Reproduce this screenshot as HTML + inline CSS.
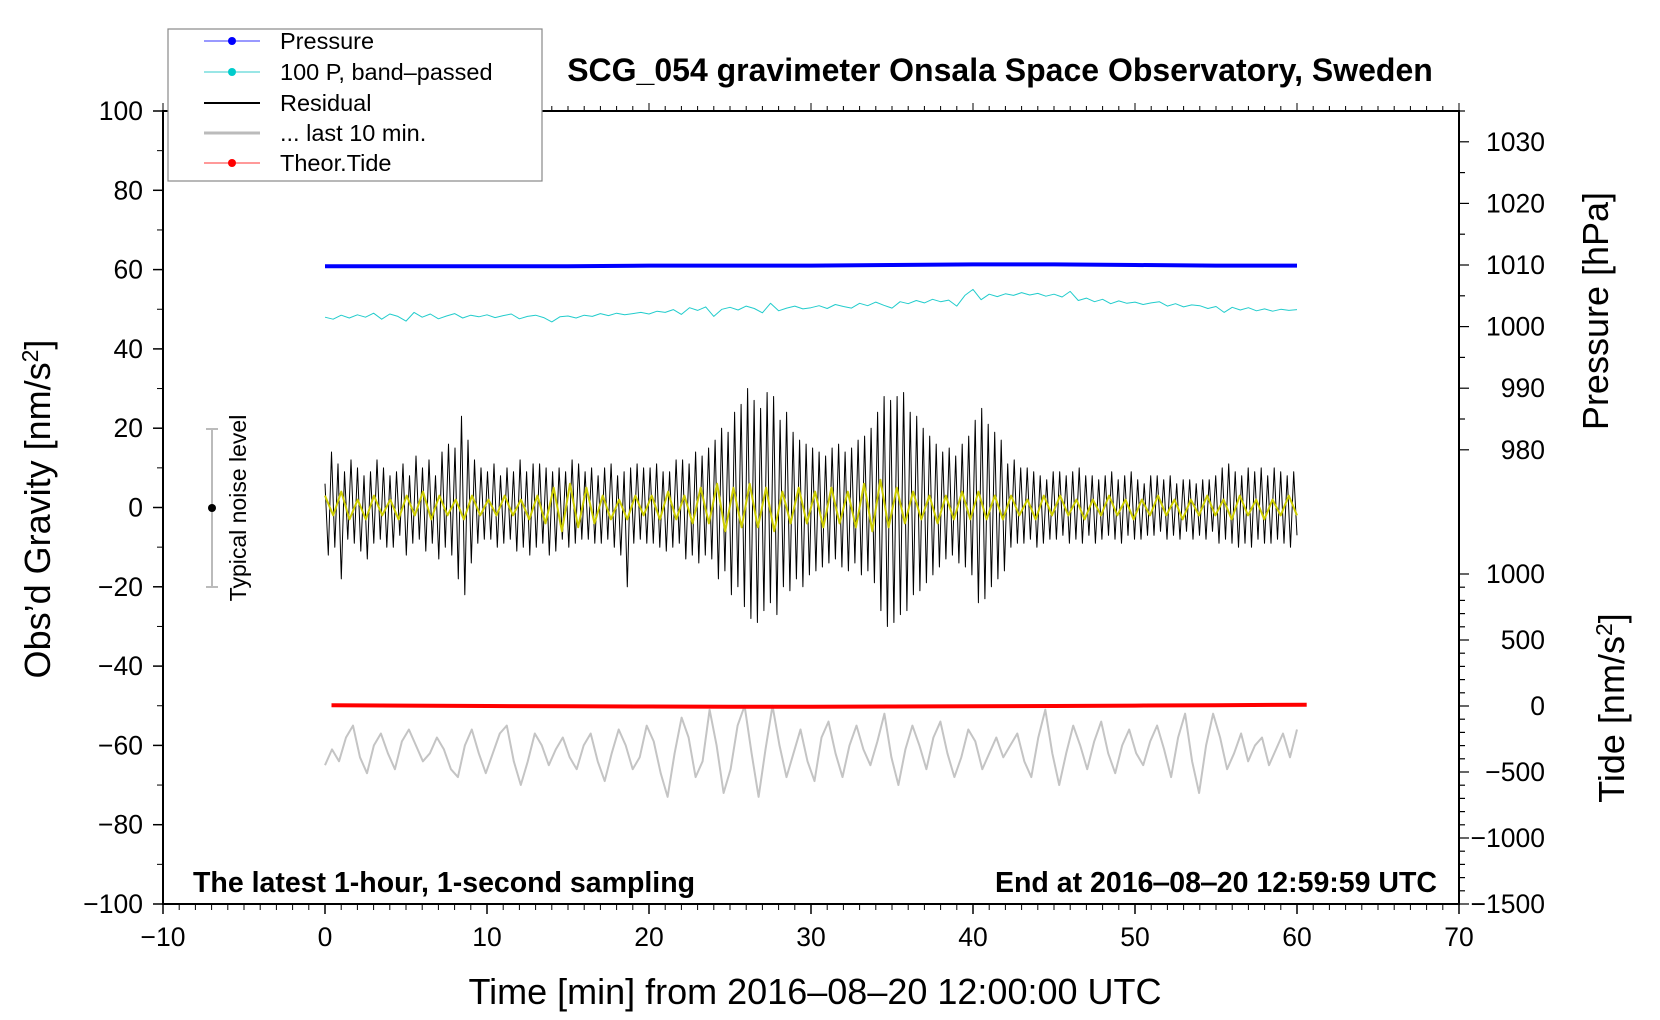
<!DOCTYPE html>
<html><head><meta charset="utf-8"><style>
html,body{margin:0;padding:0;background:#fff;}
svg{display:block;font-family:"Liberation Sans",Arial,sans-serif;}
</style></head><body>
<svg id="chart" width="1660" height="1020" viewBox="0 0 1660 1020">
<g id="marks"></g>
<g id="axes"></g>
<text x="1000" y="81" font-size="32" font-weight="bold" text-anchor="middle">SCG_054 gravimeter Onsala Space Observatory, Sweden</text>
<text x="193" y="892" font-size="28.5" font-weight="bold">The latest 1-hour, 1-second sampling</text>
<text x="1437" y="892" font-size="28.5" font-weight="bold" text-anchor="end">End at 2016‒08‒20 12:59:59 UTC</text>
<text x="815" y="1004" font-size="36" text-anchor="middle">Time [min] from 2016‒08‒20 12:00:00 UTC</text>
<text transform="translate(50,509) rotate(-90)" font-size="36" text-anchor="middle">Obs’d Gravity [nm/s<tspan font-size="23" dy="-12">2</tspan><tspan dy="12">]</tspan></text>
<text transform="translate(1608,311) rotate(-90)" font-size="36" text-anchor="middle">Pressure [hPa]</text>
<text transform="translate(1624,708) rotate(-90)" font-size="36" text-anchor="middle">Tide [nm/s<tspan font-size="23" dy="-12">2</tspan><tspan dy="12">]</tspan></text>
<g>
<line x1="212" y1="429" x2="212" y2="587" stroke="#bbb" stroke-width="2"/>
<line x1="206" y1="429" x2="218" y2="429" stroke="#bbb" stroke-width="2"/>
<line x1="206" y1="587" x2="218" y2="587" stroke="#bbb" stroke-width="2"/>
<circle cx="212" cy="508" r="4" fill="#000"/>
<text transform="translate(246,508) rotate(-90)" font-size="23" text-anchor="middle">Typical noise level</text>
</g>
<g>
<rect x="168" y="29" width="374" height="152" fill="#fff" stroke="#888" stroke-width="1.2"/>
<line x1="204" y1="41" x2="260" y2="41" stroke="#33f" stroke-width="1"/><circle cx="232" cy="41" r="4" fill="#00f"/>
<text x="280" y="49" font-size="23.5">Pressure</text>
<line x1="204" y1="72" x2="260" y2="72" stroke="#3cc" stroke-width="1"/><circle cx="232" cy="72" r="4" fill="#0cc"/>
<text x="280" y="80" font-size="23.5">100 P, band‒passed</text>
<line x1="204" y1="103" x2="260" y2="103" stroke="#000" stroke-width="2"/>
<text x="280" y="111" font-size="23.5">Residual</text>
<line x1="204" y1="133" x2="260" y2="133" stroke="#bbb" stroke-width="3"/>
<text x="280" y="141" font-size="23.5">... last 10 min.</text>
<line x1="204" y1="163" x2="260" y2="163" stroke="#f33" stroke-width="1"/><circle cx="232" cy="163" r="4" fill="#f00"/>
<text x="280" y="171" font-size="23.5">Theor.Tide</text>
</g>
</svg>
<script>
const pressureTimes=[0,5,10,15,20,25,30,35,40,45,50,55,60];
const pressureValues=[1009.8,1009.8,1009.8,1009.8,1009.9,1009.9,1009.9,1010.0,1010.1,1010.1,1010.0,1009.9,1009.9];
const tideTimes=[0.4,5,10,15,20,25,30,35,40,45,50,55,60.6];
const tideValues=[5,3,0,-2,-4,-5,-5,-4,-2,0,3,6,10];
const residualValues=[6,-12,14,-10,11,-18,9,-8,12,-9,10,-11,8,-13,9,-9,12,-8,10,-10,8,-10,9,-7,11,-12,8,-9,13,-8,10,-11,12,-9,8,-13,14,-10,16,-12,15,-18,23,-22,17,-14,12,-9,10,-8,9,-8,11,-10,8,-9,10,-8,9,-11,12,-10,9,-12,11,-10,11,-9,10,-12,9,-11,10,-8,9,-10,12,-9,11,-8,9,-8,10,-9,8,-9,10,-8,11,-10,8,-12,9,-20,10,-9,11,-8,10,-9,10,-9,11,-10,9,-11,9,-10,12,-9,12,-13,11,-12,14,-14,13,-12,15,-13,17,-18,20,-16,19,-22,24,-20,26,-25,30,-28,27,-29,25,-26,29,-24,28,-27,22,-20,24,-21,19,-18,17,-20,16,-17,15,-16,14,-15,13,-14,15,-13,16,-15,14,-16,15,-14,17,-17,18,-16,20,-19,24,-26,28,-30,27,-29,28,-27,29,-26,24,-22,23,-21,20,-19,18,-17,16,-15,14,-13,15,-12,13,-14,16,-15,18,-17,22,-24,25,-23,21,-20,19,-18,17,-16,11,-10,12,-9,10,-9,10,-8,9,-10,8,-9,7,-8,9,-8,9,-7,8,-9,9,-8,10,-9,8,-7,8,-9,7,-8,8,-7,9,-8,7,-9,8,-7,9,-8,7,-8,6,-7,8,-7,8,-6,7,-8,8,-7,6,-8,7,-6,7,-8,6,-7,7,-8,7,-6,8,-9,10,-8,11,-9,9,-10,8,-9,10,-10,9,-8,10,-9,8,-9,10,-8,9,-9,8,-10,9,-7];
const smoothValues=[3,-2,4,-3,2,-3,3,-2,2,-3,3,-2,4,-3,3,-2,2,-3,3,-2,2,-2,3,-2,2,-3,3,-4,5,-6,6,-5,5,-4,3,-3,2,-3,3,-2,3,-3,4,-3,3,-4,5,-4,6,-6,5,-5,6,-5,5,-6,4,-4,5,-4,4,-5,5,-4,4,-5,6,-6,7,-5,5,-4,4,-3,3,-4,3,-3,4,-3,4,-3,3,-3,3,-2,2,-3,3,-2,3,-2,2,-3,2,-2,3,-2,2,-3,2,-2,3,-2,2,-3,2,-2,3,-2,2,-3,3,-2,2,-3,2,-2,3,-2];
const bandPassedValues=[48,47.5,48.5,47.8,48.6,48,49,47.5,48.8,48.2,47,49.2,48,48.8,47.6,48.3,48.9,47.8,48.5,48.1,48.6,47.9,48.4,48.8,47.6,48.2,48.5,47.9,46.8,48.1,48.3,47.8,48.5,48.2,48.9,48.4,49,48.6,48.9,49.2,48.8,49.5,49.2,49.9,48.7,50.4,49.7,50.6,48.2,50,50.5,49.8,50.8,50.2,49.1,51.5,49.6,50.3,50.8,50.1,50.4,50.9,50.2,51.2,50.7,50.3,51.5,50.9,51.8,51,50.3,51.9,51.4,52.2,51.6,52.5,51.9,52.3,50.8,53.5,55,52.4,53.8,53.2,53.9,53.5,54.2,53.6,54,53.3,53.8,53.1,54.5,52.2,52.8,51.9,52.5,51.4,52.1,51.5,51.8,51.2,51.6,51.9,50.8,51.4,50.6,51.1,50.9,50.2,50.7,49.2,50.5,49.8,50.4,49.6,50.1,49.5,50,49.7,49.9];
const last10Values=[-65,-61,-64,-58,-55,-63,-67,-60,-57,-62,-66,-59,-56,-60,-64,-62,-58,-61,-66,-68,-60,-56,-62,-67,-62,-57,-55,-64,-70,-64,-57,-60,-65,-61,-58,-63,-66,-60,-57,-64,-69,-62,-56,-60,-66,-63,-55,-59,-67,-73,-62,-53,-58,-68,-64,-51,-60,-72,-66,-55,-50,-62,-73,-61,-50,-60,-68,-62,-56,-64,-69,-58,-54,-62,-68,-60,-55,-61,-65,-59,-52,-63,-70,-61,-55,-60,-66,-58,-54,-62,-68,-63,-56,-59,-66,-62,-58,-63,-60,-57,-64,-68,-58,-51,-62,-70,-62,-55,-60,-66,-59,-54,-62,-67,-60,-56,-62,-65,-59,-55,-61,-68,-58,-52,-64,-72,-60,-52,-58,-66,-62,-57,-64,-60,-58,-65,-61,-57,-63,-56];
const xTicks=[-10,0,10,20,30,40,50,60,70];
const gTicks=[100,80,60,40,20,0,-20,-40,-60,-80,-100];
const pTicks=[1030,1020,1010,1000,990,980];
const tTicks=[1000,500,0,-500,-1000,-1500];

const L=163,R=1459,T=111,B=904;
const xs=t=>L+(t+10)/80*(R-L);
const yg=g=>T+(100-g)/200*(B-T);
const yp=p=>265-(p-1010)*6.16;
const yt=v=>706-v*0.132;
const NS='http://www.w3.org/2000/svg';
const marks=document.getElementById('marks'),axes=document.getElementById('axes');
function mk(tag,parent,attrs){const e=document.createElementNS(NS,tag);for(const k in attrs)e.setAttribute(k,attrs[k]);parent.appendChild(e);return e;}
function poly(pts,stroke,w,name){
  const e=mk('polyline',marks,{points:pts.map(p=>p[0].toFixed(1)+','+p[1].toFixed(1)).join(' '),fill:'none',stroke:stroke,'stroke-width':w,'stroke-linejoin':'round'});
  
  
}
poly(last10Values.map((v,i)=>[xs(i*60/(last10Values.length-1)),yg(v)]),'#c4c4c4',2,'last-10-min-line');
poly(tideValues.map((v,i)=>[xs(tideTimes[i]),yt(v)]),'#f00',4,'theor-tide-line');
poly(pressureValues.map((v,i)=>[xs(pressureTimes[i]),yp(v)]),'#00f',4,'pressure-line');
poly(bandPassedValues.map((v,i)=>[xs(i*60/(bandPassedValues.length-1)),yg(v)]),'#2cc',1,'band-passed-pressure-line');
poly(residualValues.map((v,i)=>[xs(i*60/(residualValues.length-1)),yg(v)]),'#000',1,'residual-line');
poly(smoothValues.map((v,i)=>[xs(i*60/(smoothValues.length-1)),yg(v)]),'#cc0',2,'residual-smoothed-line');

const fr=mk('rect',axes,{x:L,y:T,width:R-L,height:B-T,fill:'none',stroke:'#000','stroke-width':2});


function tick(x1,y1,x2,y2,w){mk('line',axes,{x1:x1,y1:y1,x2:x2,y2:y2,stroke:'#000','stroke-width':w});}
function label(x,y,txt,anchor,name){const e=mk('text',axes,{x:x,y:y,'font-size':26.5,'text-anchor':anchor});e.textContent=txt;
  
  }
const fmt=v=>String(v).replace('-','−');
for(let t=-10;t<=70;t++){const big=t%10===0;tick(xs(t),B,xs(t),B+(big?10:6),big?1.5:1);tick(xs(t),T,xs(t),T-(big?8:5),1);}
xTicks.forEach(t=>label(xs(t),B+42,fmt(t),'middle','x-tick-label'));
for(let g=-100;g<=100;g+=10){const big=g%20===0;tick(L,yg(g),L-(big?10:6),yg(g),big?1.5:1);}
gTicks.forEach(g=>label(L-20,yg(g)+9,fmt(g),'end','gravity-tick-label'));
for(let p=980;p<=1035;p+=5){const big=p%10===0;tick(R,yp(p),R+(big?10:6),yp(p),1.2);}
pTicks.forEach(p=>label(R+86,yp(p)+9,fmt(p),'end','pressure-tick-label'));
for(let v=-1500;v<=1000;v+=100){const big=v%500===0;if(yt(v)<T+10)continue;tick(R,yt(v),R+(big?10:6),yt(v),1.2);}
tTicks.forEach(v=>label(R+86,yt(v)+9,fmt(v),'end','tide-tick-label'));
</script>
</body></html>
